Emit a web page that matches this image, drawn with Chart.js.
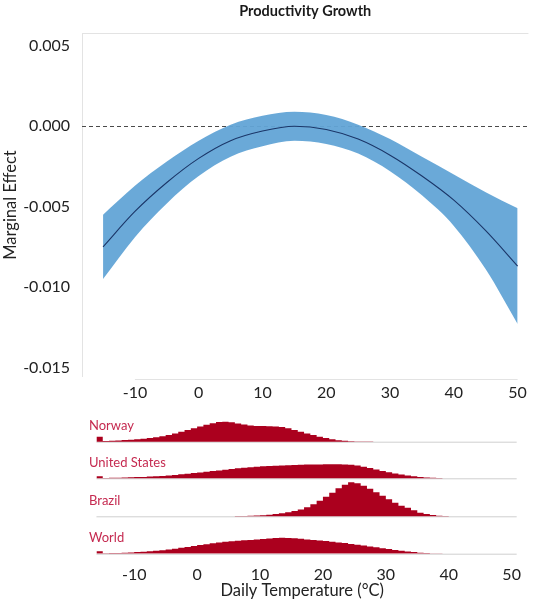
<!DOCTYPE html>
<html>
<head>
<meta charset="utf-8">
<script src="https://cdn.jsdelivr.net/npm/chart.js@4.4.1/dist/chart.umd.min.js"></script>
<style>
  html, body { margin: 0; padding: 0; background: #ffffff; }
  #wrap { position: relative; width: 533px; height: 601px; overflow: hidden; background: #ffffff; }
  #effectChart { position: absolute; left: 0; top: 0; }
  #climateChart { position: absolute; left: 0; top: 400px; }
</style>
</head>
<body>
<div id="wrap">
  <canvas id="effectChart" width="533" height="400"></canvas>
  <canvas id="climateChart" width="533" height="201"></canvas>
</div>
<script>
// ---- Marginal effect of daily temperature on productivity growth ----
const tempGrid    = [-15, -10, -5, 0, 5, 10, 15, 20, 25, 30, 35, 40, 45, 50];
const effect      = [-0.0075, -0.0053, -0.0035, -0.0020, -0.0009, -0.0003, 0.0000, -0.0002, -0.0008, -0.0018, -0.0031, -0.0046, -0.0065, -0.0087];
const effectUpper = [-0.0055, -0.0037, -0.0022, -0.0009, 0.0001, 0.00065, 0.0009, 0.0007, 0.0001, -0.0008, -0.0019, -0.0030, -0.0041, -0.0051];
const effectLower = [-0.0095, -0.0069, -0.0048, -0.0031, -0.0019, -0.00125, -0.0009, -0.0011, -0.0017, -0.0028, -0.0043, -0.0062, -0.0089, -0.0123];

const xTicks = [-10, 0, 10, 20, 30, 40, 50];
const yTicks = [0.005, 0.000, -0.005, -0.010, -0.015];

// ---- Distribution of days by temperature, 1 °C bins starting at -16 °C ----
const firstBinEdge = -16;
const norwayDays = [5.0, 0.8, 1.0, 1.3, 1.6, 2.0, 2.5, 3.0, 3.6, 4.5, 5.5, 6.8, 8.2, 10.0, 11.8, 13.5,
  15.3, 17.0, 18.5, 19.6, 20.0, 19.5, 18.3, 17.2, 16.3, 15.8, 15.6, 15.5, 15.2, 14.6,
  13.4, 11.8, 10.0, 8.3, 6.6, 5.0, 3.6, 2.4, 1.5, 0.9, 0.5, 0.3, 0.2, 0.1, 0.05,
  0, 0, 0, 0, 0, 0, 0, 0, 0, 0, 0, 0, 0, 0, 0, 0, 0, 0, 0, 0, 0];
const usDays = [2.0, 0.4, 0.5, 0.6, 0.8, 1.0, 1.2, 1.4, 1.7, 2.0, 2.4, 2.9, 3.4, 4.0, 4.6, 5.2,
  5.8, 6.5, 7.2, 7.9, 8.6, 9.3, 10.0, 10.6, 11.1, 11.6, 12.0, 12.3, 12.6, 12.9,
  13.1, 13.3, 13.5, 13.7, 13.8, 13.9, 14.0, 14.0, 14.0, 13.9, 13.5, 12.7, 11.5, 10.2, 8.8,
  7.4, 6.1, 4.9, 3.8, 2.9, 2.1, 1.4, 0.9, 0.5, 0.3, 0.15, 0.05, 0, 0, 0, 0, 0, 0, 0, 0, 0];
const brazilDays = [0, 0, 0, 0, 0, 0, 0, 0, 0, 0, 0, 0, 0, 0, 0, 0,
  0, 0, 0, 0, 0, 0.1, 0.2, 0.3, 0.5, 0.7, 1.0, 1.5, 2.2, 3.0,
  4.0, 5.2, 6.8, 9.0, 12.0, 15.5, 19.5, 23.5, 28.0, 31.5, 34.0, 33.0, 30.5, 27.5, 24.0,
  20.5, 17.0, 13.5, 10.5, 8.5, 6.0, 3.5, 2.2, 1.2, 0.5, 0.2, 0, 0, 0, 0, 0, 0, 0, 0, 0, 0];
const worldDays = [2.5, 0.5, 0.6, 0.8, 1.0, 1.3, 1.6, 2.0, 2.4, 2.9, 3.5, 4.2, 5.0, 5.9, 6.8, 7.7,
  8.6, 9.5, 10.4, 11.2, 11.9, 12.5, 13.0, 13.4, 13.8, 14.3, 14.8, 15.3, 15.7, 15.9,
  15.8, 15.4, 14.9, 14.3, 13.7, 13.2, 12.6, 12.0, 11.3, 10.6, 9.8, 9.0, 8.2, 7.3, 6.4,
  5.5, 4.6, 3.8, 3.0, 2.3, 1.6, 1.0, 0.6, 0.3, 0.1, 0, 0, 0, 0, 0, 0, 0, 0, 0, 0, 0];

const countries = ['Norway', 'United States', 'Brazil', 'World'];
const countryDays = [norwayDays, usDays, brazilDays, worldDays];

// ---- shared look ----
const FONT = 'Lato, "Open Sans", sans-serif';
const X_MIN = -18.3, X_MAX = 51.7;
const BAND_BLUE = 'rgba(98, 164, 214, 0.95)';
const LINE_NAVY = '#1b3668';
const RIDGE_RED = '#ab001e';
const LABEL_RED = '#c52a50';
const AXIS_GREY = '#e3e3e3';

Chart.defaults.font.family = FONT;
Chart.defaults.color = '#222';

// axis frame + dashed zero reference for the effect panel
const effectFrame = {
  id: 'effectFrame',
  beforeDatasetsDraw(chart) {
    const { ctx, chartArea: a, scales: { x, y } } = chart;
    ctx.save();
    ctx.strokeStyle = AXIS_GREY;
    ctx.lineWidth = 1;
    ctx.beginPath();
    ctx.moveTo(a.left, a.top + 0.5); ctx.lineTo(a.right, a.top + 0.5);
    ctx.moveTo(a.left + 0.5, a.top); ctx.lineTo(a.left + 0.5, a.bottom);
    const yb = a.bottom + 2.5;
    ctx.moveTo(x.getPixelForValue(xTicks[0]), yb);
    ctx.lineTo(x.getPixelForValue(xTicks[xTicks.length - 1]), yb);
    ctx.stroke();
    const y0 = Math.round(y.getPixelForValue(0)) + 0.5;
    ctx.strokeStyle = '#4a4a4a';
    ctx.setLineDash([4, 3]);
    ctx.beginPath();
    ctx.moveTo(a.left, y0); ctx.lineTo(a.right, y0);
    ctx.stroke();
    ctx.restore();
  }
};

const curveStyle = { pointRadius: 0, cubicInterpolationMode: 'monotone' };

new Chart(document.getElementById('effectChart'), {
  type: 'line',
  data: {
    labels: tempGrid,
    datasets: [
      {
        ...curveStyle, label: 'Marginal effect',
        data: tempGrid.map((t, i) => ({ x: t, y: effect[i] })),
        borderColor: LINE_NAVY, borderWidth: 1.1, fill: false, order: 0
      },
      {
        ...curveStyle, label: 'Upper bound',
        data: tempGrid.map((t, i) => ({ x: t, y: effectUpper[i] })),
        borderWidth: 0, borderColor: 'rgba(0,0,0,0)',
        fill: '+1', backgroundColor: BAND_BLUE, order: 1
      },
      {
        ...curveStyle, label: 'Lower bound',
        data: tempGrid.map((t, i) => ({ x: t, y: effectLower[i] })),
        borderWidth: 0, borderColor: 'rgba(0,0,0,0)',
        fill: false, order: 2
      }
    ]
  },
  options: {
    responsive: false, animation: false, devicePixelRatio: 1,
    layout: { padding: { left: 0, right: 3, top: 0, bottom: 0 } },
    plugins: {
      legend: { display: false }, tooltip: { enabled: false },
      title: {
        display: true, text: 'Productivity Growth', fullSize: false,
        font: { family: FONT, size: 14.5, weight: 'bold' }, color: '#1a1a1a',
        padding: { top: 3, bottom: 12.6 }
      }
    },
    scales: {
      x: {
        type: 'linear', min: X_MIN, max: X_MAX,
        afterBuildTicks: s => { s.ticks = xTicks.map(v => ({ value: v })); },
        afterFit: s => { s.height = 23; },
        grid: { display: false, drawTicks: false }, border: { display: false },
        ticks: { font: { size: 16 }, color: '#222', padding: 6 }
      },
      y: {
        min: -0.0156, max: 0.0058,
        afterBuildTicks: s => { s.ticks = yTicks.map(v => ({ value: v })); },
        afterFit: s => { s.width = 82; },
        grid: { display: false, drawTicks: false }, border: { display: false },
        ticks: { font: { size: 16 }, color: '#222', padding: 12, callback: v => v.toFixed(3) },
        title: { display: true, text: 'Marginal Effect', font: { size: 16.5 }, color: '#222', padding: { top: 1, bottom: 0 } }
      }
    }
  },
  plugins: [effectFrame]
});

// ---- ridgeline of temperature distributions ----
const ridgeBase = [112, 75.4, 37.4, 0];   // baseline of each country row (1 unit = 1 px)
const labelLift = 15.5;

const ridgeDecor = {
  id: 'ridgeDecor',
  beforeDatasetsDraw(chart) {
    const { ctx, scales: { x, y } } = chart;
    ctx.save();
    ctx.strokeStyle = '#cfcfcf';
    ctx.lineWidth = 1;
    ridgeBase.forEach(b => {
      const py = y.getPixelForValue(b) + 0.5;
      ctx.beginPath();
      ctx.moveTo(x.getPixelForValue(firstBinEdge), py);
      ctx.lineTo(x.getPixelForValue(50.8), py);
      ctx.stroke();
    });
    ctx.restore();
  },
  afterDatasetsDraw(chart) {
    const { ctx, scales: { y } } = chart;
    ctx.save();
    ctx.fillStyle = LABEL_RED;
    ctx.font = '13px ' + FONT;
    ctx.textBaseline = 'middle';
    ctx.textAlign = 'left';
    countries.forEach((name, i) => {
      ctx.fillText(name, 89, y.getPixelForValue(ridgeBase[i] + labelLift));
    });
    ctx.restore();
  }
};

new Chart(document.getElementById('climateChart'), {
  type: 'line',
  data: {
    datasets: countries.map((name, i) => ({
      label: name,
      data: countryDays[i].map((v, k) => ({ x: firstBinEdge + k, y: ridgeBase[i] + v })),
      stepped: 'before',
      borderWidth: 0, borderColor: 'rgba(0,0,0,0)', pointRadius: 0,
      backgroundColor: RIDGE_RED,
      fill: { value: ridgeBase[i] }
    }))
  },
  options: {
    responsive: false, animation: false, devicePixelRatio: 1,
    layout: { padding: { left: 82, right: 3, top: 0, bottom: 0 } },
    plugins: { legend: { display: false }, tooltip: { enabled: false }, title: { display: false } },
    scales: {
      x: {
        type: 'linear', min: X_MIN, max: X_MAX,
        afterBuildTicks: s => { s.ticks = xTicks.map(v => ({ value: v })); },
        afterFit: s => { s.height = 47.3; },
        grid: { display: false, drawTicks: false }, border: { display: false },
        ticks: { font: { size: 16 }, color: '#222', padding: 12 },
        title: { display: true, text: 'Daily Temperature (°C)', font: { size: 16.5 }, color: '#222', padding: { top: 0, bottom: 0 } }
      },
      y: { display: false, min: 0, max: 153.7 }
    }
  },
  plugins: [ridgeDecor]
});
</script>
</body>
</html>
